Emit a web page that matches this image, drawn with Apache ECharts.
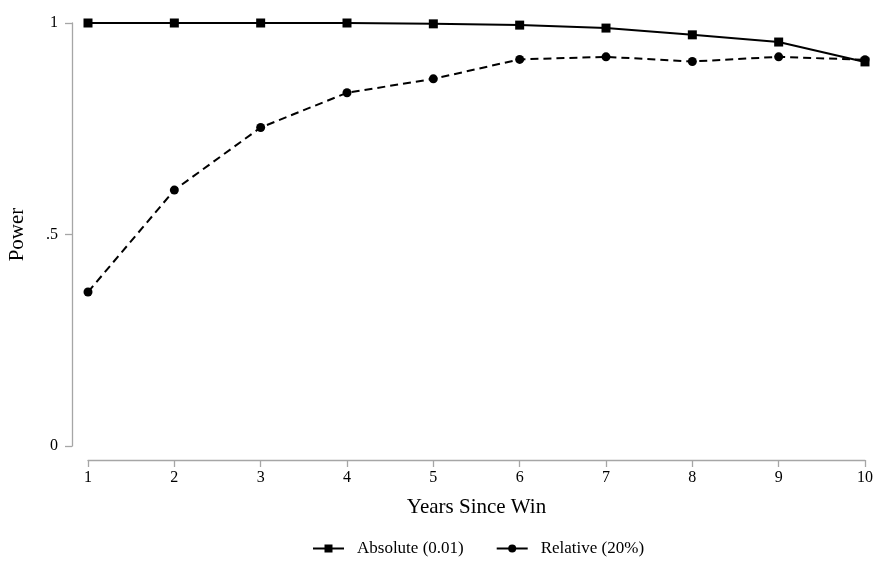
<!DOCTYPE html>
<html>
<head>
<meta charset="utf-8">
<script src="https://cdn.jsdelivr.net/npm/echarts@6/dist/echarts.min.js"></script>
<style>
  html, body { margin: 0; padding: 0; background: #fff; }
  #chart { width: 874px; height: 567px; }
</style>
</head>
<body>
<div id="chart"></div>
<script>
// Years since win and estimated power for each test
const years = [1, 2, 3, 4, 5, 6, 7, 8, 9, 10];
const absolutePower = [1.0, 1.0, 1.0, 1.0, 0.998, 0.995, 0.988, 0.972, 0.955, 0.908];
const relativePower = [0.364, 0.605, 0.753, 0.835, 0.868, 0.914, 0.920, 0.909, 0.920, 0.913];
const yTickText = { 0: '0', 0.5: '.5', 1: '1' };
const seriesNames = ['Absolute (0.01)', 'Relative (20%)'];

const font = 'Liberation Serif, Times New Roman, serif';
const axisGray = '#a6a6a6';

const chart = echarts.init(document.getElementById('chart'));
chart.setOption({
  animation: false,
  backgroundColor: '#ffffff',
  textStyle: { fontFamily: font },
  grid: { left: 88, right: 9, top: 23, bottom: 121, containLabel: false, outerBoundsMode: 'none' },
  xAxis: {
    type: 'value',
    min: 1, max: 10, interval: 1,
    offset: 14,
    name: 'Years Since Win',
    nameLocation: 'middle',
    nameGap: 37,
    nameTextStyle: { fontFamily: font, fontSize: 21, color: '#000' },
    axisLine: { show: true, onZero: false, lineStyle: { color: axisGray, width: 1.3 } },
    axisTick: { show: true, length: 7, lineStyle: { color: axisGray, width: 1.3 } },
    axisLabel: { fontFamily: font, fontSize: 16, color: '#000', margin: 10 },
    splitLine: { show: false }
  },
  yAxis: {
    type: 'value',
    min: 0, max: 1, interval: 0.5,
    offset: 16,
    name: 'Power',
    nameLocation: 'middle',
    nameGap: 44,
    nameRotate: 90,
    nameTextStyle: { fontFamily: font, fontSize: 21, color: '#000' },
    axisLine: { show: true, onZero: false, lineStyle: { color: axisGray, width: 1.3 } },
    axisTick: { show: true, length: 7, lineStyle: { color: axisGray, width: 1.3 } },
    axisLabel: {
      fontFamily: font, fontSize: 16, color: '#000', margin: 14,
      formatter: v => yTickText[v] !== undefined ? yTickText[v] : String(v)
    },
    splitLine: { show: false }
  },
  legend: {
    bottom: 5,
    left: 307,
    itemGap: 32,
    itemWidth: 31,
    itemHeight: 10,
    textStyle: { fontFamily: font, fontSize: 17, color: '#000', padding: [0, 0, 0, 8] },
    lineStyle: { type: 'solid', width: 2, color: '#000' },
    data: [seriesNames[0], seriesNames[1]]
  },
  series: [
    {
      name: seriesNames[0],
      type: 'line',
      data: years.map((x, i) => [x, absolutePower[i]]),
      symbol: 'rect',
      symbolSize: 9,
      showAllSymbol: true,
      lineStyle: { color: '#000', width: 2, type: 'solid' },
      itemStyle: { color: '#000' },
      z: 3
    },
    {
      name: seriesNames[1],
      type: 'line',
      data: years.map((x, i) => [x, relativePower[i]]),
      symbol: 'circle',
      symbolSize: 9,
      showAllSymbol: true,
      lineStyle: { color: '#000', width: 2, type: [8, 5] },
      itemStyle: { color: '#000' },
      z: 2
    }
  ]
});
</script>
</body>
</html>
